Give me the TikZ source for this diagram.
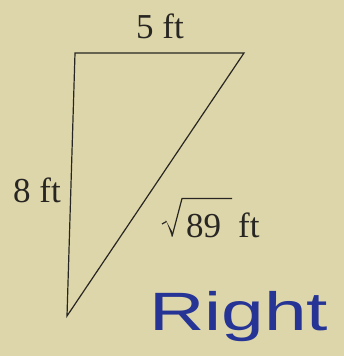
\documentclass[tikz,border=0pt]{standalone}
\usepackage{fontspec}
\setmainfont{Liberation Serif}
\newfontfamily\handfont{Liberation Sans}
\definecolor{paper}{RGB}{221,214,170}
\definecolor{ink}{RGB}{40,38,34}
\definecolor{pen}{RGB}{38,52,150}
\tikzset{
  side/.style={draw=ink, line width=1.2pt, line join=miter},
  lbl/.style={text=ink, font=\fontsize{35}{35}\selectfont, inner sep=0pt},
  radical/.style={draw=ink, line width=1.2pt, line join=miter},
  hand/.style={text=pen, font=\handfont\fontsize{54}{54}\selectfont, inner sep=0pt, xscale=1.42}
}
\begin{document}
\begin{tikzpicture}[x=1pt,y=-1pt]
\fill[paper] (0,0) rectangle (344,356);
\useasboundingbox (0,0) rectangle (344,356);
\coordinate (A) at (75,53);
\coordinate (B) at (244,53);
\coordinate (C) at (67,316);
\draw[side] (A) -- (B) -- (C) -- cycle;
\node[lbl] (top) at (160,26) {5 ft};
\node[lbl] (left) at (37,190) {8 ft};
\node[lbl, anchor=base west] (hyp) at (186,237) {89\hspace{17pt}ft};
\coordinate (r0) at (162,224);
\coordinate (r1) at (166.5,221.5);
\coordinate (r2) at (172,236.5);
\coordinate (r3) at (182,198.5);
\coordinate (r4) at (232,198.5);
\draw[radical] (r0) -- (r1);
\fill[ink] (r1) -- (165.5,219.8) -- (173.2,233.5) -- (r2) -- cycle;
\draw[radical] (r2) -- (r3) -- (r4);
\node[hand, anchor=base west] (right) at (149,330) {Right};
\end{tikzpicture}
\end{document}
